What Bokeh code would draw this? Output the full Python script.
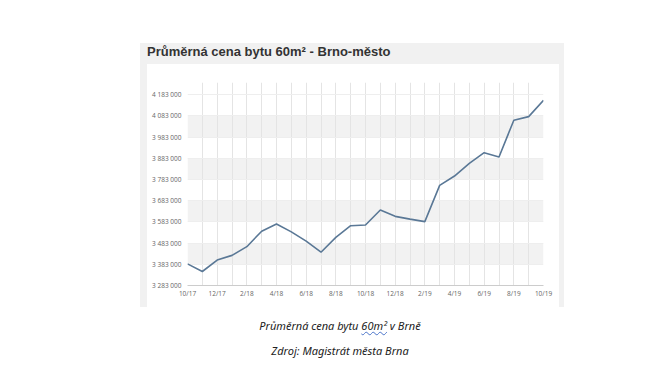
from bokeh.plotting import figure
from bokeh.models import FixedTicker, Div, Spacer
from bokeh.layouts import column, row
from bokeh.embed import file_html
from bokeh.resources import INLINE

# ---- data ----
months = ["10/17", "11/17", "12/17", "1/18", "2/18", "3/18", "4/18", "5/18", "6/18",
          "7/18", "8/18", "9/18", "10/18", "11/18", "12/18", "1/19", "2/19", "3/19",
          "4/19", "5/19", "6/19", "7/19", "8/19", "9/19", "10/19"]
prices = [3385000, 3349000, 3403000, 3425000, 3466000, 3539000, 3573000, 3536000, 3492000,
          3440000, 3510000, 3565000, 3568000, 3639000, 3609000, 3596000, 3584000, 3755000,
          3799000, 3859000, 3909000, 3889000, 4062000, 4079000, 4156000]
x_tick_labels = ["10/17", "12/17", "2/18", "4/18", "6/18", "8/18", "10/18",
                 "12/18", "2/19", "4/19", "6/19", "8/19", "10/19"]
y_ticks = [3283000, 3383000, 3483000, 3583000, 3683000, 3783000, 3883000,
           3983000, 4083000, 4183000]
y_tick_labels = ["3 283 000", "3 383 000", "3 483 000", "3 583 000", "3 683 000",
                 "3 783 000", "3 883 000", "3 983 000", "4 083 000", "4 183 000"]
title_text = "Průměrná cena bytu 60m² - Brno-město"
caption_1_parts = ["Průměrná cena bytu ", "60m²", " v Brně"]
caption_2 = "Zdroj: Magistrát města Brna"

x_pos = list(range(len(months)))
x_label_pos = [months.index(m) for m in x_tick_labels]

CARD_GREY = "#f1f1f1"

p = figure(width=412, height=243, output_backend="svg", toolbar_location=None,
           x_range=(0, len(months) - 1), y_range=(3283000, 4240000),
           min_border_left=40, min_border_right=16, min_border_top=18,
           min_border_bottom=22, margin=0)
p.outline_line_color = None
p.border_fill_color = "white"
p.background_fill_color = "white"

# bands (every other interval between y ticks)
band_bottoms = y_ticks[1:-1:2]
band_tops = y_ticks[2::2]
p.quad(left=0, right=len(months) - 1, bottom=band_bottoms, top=band_tops,
       fill_color="#f2f2f2", line_color=None, level="underlay")

# grids
p.xgrid.ticker = FixedTicker(ticks=x_pos)
p.xgrid.grid_line_color = "#e4e4e4"
p.xgrid.grid_line_width = 1
p.ygrid.ticker = FixedTicker(ticks=y_ticks)
p.ygrid.grid_line_color = "#eeeeee"

# axes
p.xaxis.ticker = FixedTicker(ticks=x_label_pos)
p.xaxis.major_label_overrides = {i: m for i, m in zip(x_label_pos, x_tick_labels)}
p.yaxis.ticker = FixedTicker(ticks=y_ticks)
p.yaxis.major_label_overrides = {t: s for t, s in zip(y_ticks, y_tick_labels)}
for ax in (p.xaxis, p.yaxis):
    ax.major_tick_line_color = None
    ax.minor_tick_line_color = None
    ax.major_tick_out = 0
    ax.major_tick_in = 0
    ax.minor_tick_out = 0
    ax.minor_tick_in = 0
    ax.major_label_text_font = "Open Sans"
    ax.major_label_text_font_size = "6.5px"
    ax.major_label_text_color = "#666666"
p.xaxis.major_label_standoff = 3
p.yaxis.major_label_standoff = 6
p.yaxis.axis_line_color = None
p.xaxis.axis_line_color = "#cccccc"

# line
p.line(x_pos, prices, line_color="#5a7896", line_width=1.6)

# ---- card pieces ----
title_div = Div(
    text=(f"<div style=\"width:424px;height:21px;background:{CARD_GREY};"
          f"font-family:'Liberation Sans';font-weight:bold;font-size:13px;color:#333;"
          f"line-height:18px;padding-left:7px;box-sizing:border-box;white-space:nowrap\">"
          f"{title_text}</div>"),
    width=424, height=21, margin=0)
left_strip = Div(text=f"<div style='width:7px;height:243px;background:{CARD_GREY}'></div>",
                 width=7, height=243, margin=0)
right_strip = Div(text=f"<div style='width:5px;height:243px;background:{CARD_GREY}'></div>",
                  width=5, height=243, margin=0)
card = column(title_div, row(left_strip, p, right_strip, spacing=0), spacing=0)

cap_style = ("width:240px;text-align:center;font-family:'Noto Sans';font-style:italic;"
             "font-size:11px;color:#222;line-height:16px;white-space:nowrap")
cap1 = Div(text=(f"<div style=\"{cap_style}\">{caption_1_parts[0]}"
                 f"<span style='text-decoration:underline wavy #4a74c9;"
                 f"text-decoration-thickness:1px'>{caption_1_parts[1]}</span>"
                 f"{caption_1_parts[2]}</div>"),
           width=240, height=16, margin=0)
cap2 = Div(text=f"<div style=\"{cap_style}\">{caption_2}</div>",
           width=240, height=16, margin=0)

layout = column(
    Spacer(height=43, width=10, margin=0),
    row(Spacer(width=140, height=10, margin=0), card, spacing=0),
    Spacer(height=11, width=10, margin=0),
    row(Spacer(width=220, height=10, margin=0), cap1, spacing=0),
    Spacer(height=9, width=10, margin=0),
    row(Spacer(width=220, height=10, margin=0), cap2, spacing=0),
    spacing=0,
)

open("out.html", "w").write(file_html(layout, INLINE))
